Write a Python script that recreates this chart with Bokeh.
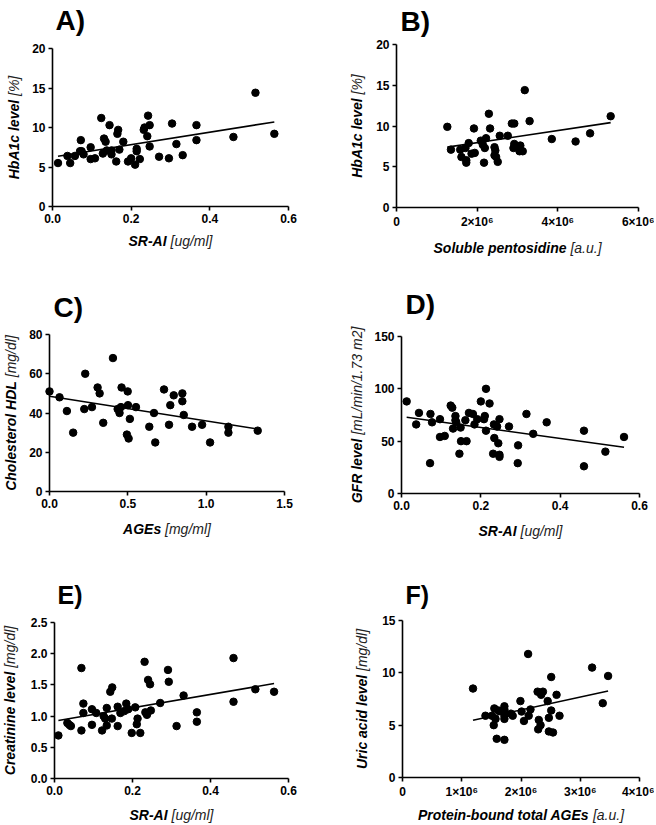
import math
from bokeh.plotting import figure
from bokeh.models import Label, Range1d, FixedTicker
from bokeh.layouts import column, row
from bokeh.embed import file_html
from bokeh.resources import INLINE

FONT = "Liberation Sans"

# ---------------- data ----------------
# A) HbA1c vs SR-AI
a_x = [0.014, 0.038, 0.045, 0.057, 0.070, 0.072, 0.074, 0.079, 0.097, 0.097, 0.108, 0.124,
       0.128, 0.131, 0.135, 0.138, 0.145, 0.150, 0.150, 0.162, 0.165, 0.167, 0.170, 0.180,
       0.192, 0.200, 0.210, 0.214, 0.214, 0.222, 0.232, 0.234, 0.241, 0.243, 0.247, 0.247,
       0.271, 0.296, 0.304, 0.315, 0.331, 0.366, 0.366, 0.460, 0.516, 0.564]
a_y = [5.5, 6.4, 5.5, 6.4, 7.0, 8.4, 7.0, 6.6, 7.5, 6.0, 6.1, 11.2,
       6.7, 8.6, 8.2, 7.1, 10.3, 6.6, 7.1, 5.7, 9.2, 9.7, 7.2, 8.2,
       5.7, 6.1, 5.3, 7.0, 7.3, 6.0, 9.7, 10.0, 8.9, 11.5, 10.3, 7.6,
       6.3, 6.1, 10.5, 7.9, 6.5, 10.3, 8.4, 8.8, 14.4, 9.2]
a_fit = [7.9, 6.25]            # slope, intercept
a_xticks = [0, 0.2, 0.4, 0.6]
a_xtick_labels = ["0.0", "0.2", "0.4", "0.6"]
a_yticks = [0, 5, 10, 15, 20]
a_ytick_labels = ["0", "5", "10", "15", "20"]

# B) HbA1c vs soluble pentosidine
b_x = [1.26e6, 1.35e6, 1.58e6, 1.61e6, 1.71e6, 1.73e6, 1.73e6, 1.79e6, 1.86e6, 1.92e6,
       1.94e6, 2.09e6, 2.14e6, 2.17e6, 2.19e6, 2.22e6, 2.29e6, 2.32e6, 2.43e6, 2.45e6,
       2.43e6, 2.47e6, 2.51e6, 2.56e6, 2.76e6, 2.86e6, 2.92e6, 2.90e6, 2.92e6, 3.07e6,
       3.05e6, 3.13e6, 3.18e6, 3.30e6, 3.85e6, 4.44e6, 4.80e6, 5.31e6]
b_y = [9.9, 7.1, 7.1, 6.2, 7.3, 5.8, 5.5, 7.9, 6.6, 9.7,
       6.7, 8.2, 7.7, 5.5, 7.3, 8.5, 11.5, 9.7, 7.4, 7.0,
       6.4, 6.2, 5.6, 8.8, 8.8, 10.3, 10.3, 7.3, 7.8, 7.6,
       6.9, 6.9, 14.4, 10.6, 8.4, 8.1, 9.1, 11.2]
b_fit = [0.74e-6, 6.48]
b_xticks = [0, 2e6, 4e6, 6e6]
b_xtick_labels = ["0", "2×10⁶", "4×10⁶", "6×10⁶"]
b_yticks = [0, 5, 10, 15, 20]
b_ytick_labels = ["0", "5", "10", "15", "20"]

# C) Cholesterol HDL vs AGEs
c_x = [0.0, 0.064, 0.111, 0.151, 0.222, 0.228, 0.271, 0.307, 0.320, 0.343, 0.405, 0.435,
       0.447, 0.456, 0.460, 0.499, 0.501, 0.494, 0.505, 0.513, 0.552, 0.637, 0.667, 0.675,
       0.731, 0.763, 0.771, 0.793, 0.848, 0.848, 0.857, 0.910, 0.974, 1.025, 1.142, 1.142, 1.329]
c_y = [51, 48, 41, 30, 42, 60, 43, 53, 50, 35, 68, 42,
       40, 43, 53, 51, 44, 29, 27, 37, 43, 33, 40, 25,
       52, 34, 44, 49, 50, 46, 39, 33, 34, 25, 33, 30, 31]
c_fit = [-12.56, 48.5]
c_xticks = [0, 0.5, 1.0, 1.5]
c_xtick_labels = ["0.0", "0.5", "1.0", "1.5"]
c_yticks = [0, 20, 40, 60, 80]
c_ytick_labels = ["0", "20", "40", "60", "80"]

# D) GFR vs SR-AI
d_x = [0.013, 0.037, 0.044, 0.072, 0.073, 0.077, 0.097, 0.097, 0.109, 0.124, 0.128, 0.130,
       0.136, 0.136, 0.138, 0.146, 0.149, 0.150, 0.161, 0.164, 0.170, 0.180, 0.184, 0.191,
       0.200, 0.208, 0.210, 0.213, 0.213, 0.222, 0.233, 0.234, 0.231, 0.241, 0.244, 0.247,
       0.247, 0.247, 0.271, 0.294, 0.293, 0.315, 0.332, 0.366, 0.460, 0.460, 0.514, 0.561]
d_y = [88, 66, 77, 29, 76, 68, 71, 54, 55, 84, 82, 62,
       74, 70, 68, 38, 63, 50, 70, 50, 77, 76, 66, 71,
       88, 71, 74, 100, 60, 86, 66, 53, 38, 64, 48, 71,
       37, 35, 64, 46, 29, 76, 57, 68, 60, 26, 40, 54]
d_fit = [-52.2, 73.5]
d_xticks = [0, 0.2, 0.4, 0.6]
d_xtick_labels = ["0.0", "0.2", "0.4", "0.6"]
d_yticks = [0, 50, 100, 150]
d_ytick_labels = ["0", "50", "100", "150"]

# E) Creatinine vs SR-AI
e_x = [0.010, 0.033, 0.038, 0.042, 0.069, 0.069, 0.074, 0.074, 0.096, 0.096, 0.107, 0.122,
       0.126, 0.130, 0.134, 0.134, 0.143, 0.148, 0.147, 0.162, 0.162, 0.169, 0.179, 0.184,
       0.189, 0.198, 0.207, 0.211, 0.213, 0.220, 0.231, 0.233, 0.237, 0.240, 0.245, 0.247,
       0.271, 0.291, 0.293, 0.313, 0.331, 0.365, 0.365, 0.459, 0.459, 0.515, 0.563]
e_y = [0.69, 0.89, 0.86, 0.84, 1.77, 0.77, 1.20, 1.05, 1.11, 0.86, 1.05, 0.77,
       1.00, 0.96, 1.13, 0.85, 1.39, 1.46, 0.96, 1.15, 0.84, 1.05, 1.08, 1.20,
       1.11, 0.73, 1.14, 0.87, 0.96, 0.73, 1.87, 1.06, 1.02, 1.58, 1.51, 1.09,
       1.21, 1.74, 1.55, 0.84, 1.33, 1.06, 0.91, 1.93, 1.23, 1.43, 1.39]
e_fit = [1.07, 0.92]
e_xticks = [0, 0.2, 0.4, 0.6]
e_xtick_labels = ["0.0", "0.2", "0.4", "0.6"]
e_yticks = [0, 0.5, 1.0, 1.5, 2.0, 2.5]
e_ytick_labels = ["0.0", "0.5", "1.0", "1.5", "2.0", "2.5"]

# F) Uric acid vs protein-bound total AGEs
f_x = [1.19e6, 1.40e6, 1.51e6, 1.54e6, 1.55e6, 1.57e6, 1.59e6, 1.62e6, 1.72e6, 1.72e6,
       1.72e6, 1.72e6, 1.72e6, 1.83e6, 1.86e6, 1.99e6, 2.01e6, 2.05e6, 2.12e6, 2.13e6,
       2.16e6, 2.28e6, 2.30e6, 2.29e6, 2.33e6, 2.34e6, 2.37e6, 2.45e6, 2.47e6, 2.47e6,
       2.51e6, 2.51e6, 2.54e6, 2.60e6, 2.65e6, 3.20e6, 3.38e6, 3.47e6]
f_y = [8.5, 5.9, 5.9, 5.0, 6.6, 5.6, 3.7, 6.4, 6.8, 5.9,
       5.6, 6.5, 3.6, 6.1, 5.9, 7.3, 6.3, 5.4, 11.8, 5.9,
       6.5, 8.2, 5.5, 4.6, 5.0, 7.9, 8.2, 7.3, 5.7, 4.4,
       9.6, 6.4, 4.3, 7.9, 5.9, 10.5, 7.1, 9.7]
f_fit = [1.224e-6, 4.01]
f_xticks = [0, 1e6, 2e6, 3e6, 4e6]
f_xtick_labels = ["0", "1×10⁶", "2×10⁶", "3×10⁶", "4×10⁶"]
f_yticks = [0, 5, 10, 15]
f_ytick_labels = ["0", "5", "10", "15"]

panel_titles = ["A)", "B)", "C)", "D)", "E)", "F)"]
x_titles = [("SR-AI", "[ug/ml]"), ("Soluble pentosidine", "[a.u.]"), ("AGEs", "[mg/ml]"),
            ("SR-AI", "[ug/ml]"), ("SR-AI", "[ug/ml]"), ("Protein-bound total AGEs", "[a.u.]")]
y_titles = [("HbA1c level", "[%]"), ("HbA1c level", "[%]"), ("Cholesterol HDL", "[mg/dl]"),
            ("GFR level", "[mL/min/1.73 m2]"), ("Creatinine level", "[mg/dl]"),
            ("Uric acid level", "[mg/dl]")]

# ---------------- text width estimates (Arial metrics, em) ----------------
W_BOLD = {" ": .278, "-": .333, "A": .722, "C": .722, "D": .722, "E": .667, "F": .611,
          "G": .778, "H": .722, "I": .278, "L": .611, "P": .667, "R": .722, "S": .667,
          "U": .722, "1": .556, "a": .556, "b": .611, "c": .556, "d": .611, "e": .556,
          "g": .611, "h": .611, "i": .278, "l": .278, "n": .611, "o": .611, "p": .611,
          "r": .389, "s": .556, "t": .333, "u": .611, "v": .556}
W_REG = {" ": .278, "[": .278, "]": .278, "/": .278, ".": .278, "%": .889, "1": .556,
         "2": .556, "3": .556, "7": .556, "L": .556, "a": .556, "d": .556, "g": .556,
         "i": .222, "l": .222, "m": .833, "n": .556, "u": .556}


def tw(s, table, size):
    return sum(table.get(ch, 0.58) for ch in s) * size


def make_panel(i, xs, ys, fit, xb, yb, xticks, xlabels, yticks, ylabels,
               w, h, frame_px, xlab_off, ylab_off, title_off, title_size):
    # frame_px: pixel box (left, right, top, bottom) of the axes inside the figure
    fl, fr, ft, fbt = frame_px
    sx = (fr - fl) / (xb[1] - xb[0])
    sy = (fbt - ft) / (yb[1] - yb[0])
    xr = (xb[0] - fl / sx, xb[1] + (w - fr) / sx)
    yr = (yb[0] - (h - fbt) / sy, yb[1] + ft / sy)
    p = figure(width=w, height=h, x_range=Range1d(*xr), y_range=Range1d(*yr),
               output_backend="svg", toolbar_location=None, min_border=0,
               min_border_left=0, min_border_right=0, min_border_top=0, min_border_bottom=0)
    p.xgrid.visible = False
    p.ygrid.visible = False
    p.outline_line_color = None
    p.background_fill_color = "white"
    p.border_fill_color = "white"

    p.xaxis[0].fixed_location = yb[0]
    p.yaxis[0].fixed_location = xb[0]
    p.xaxis[0].bounds = xb
    p.yaxis[0].bounds = yb
    for ax, ticks, labels in ((p.xaxis[0], xticks, xlabels), (p.yaxis[0], yticks, ylabels)):
        ax.ticker = FixedTicker(ticks=ticks)
        ax.major_label_overrides = {t: l for t, l in zip(ticks, labels)}
        ax.axis_line_width = 1.6
        ax.axis_line_color = "black"
        ax.major_tick_line_width = 1.6
        ax.major_tick_line_color = "black"
        ax.major_tick_out = 4
        ax.major_tick_in = 0
        ax.minor_tick_out = 0
        ax.minor_tick_in = 0
        ax.major_label_standoff = 3
        ax.major_label_text_font = FONT
        ax.major_label_text_font_style = "bold"
        ax.major_label_text_font_size = "12px"
        ax.major_label_text_color = "black"

    # data points
    p.scatter(xs, ys, size=7.5, marker="circle", fill_color="black", line_color="black")
    # regression line over the data span
    x0, x1 = min(xs), max(xs)
    slope, intercept = fit
    p.line([x0, x1], [slope * x0 + intercept, slope * x1 + intercept],
           line_color="black", line_width=1.6)

    size = 14
    # x-axis title: bold part + regular part
    bold, reg = x_titles[i]
    wb, ws, wr = tw(bold, W_BOLD, size), 0.278 * size, tw(reg, W_REG, size)
    start = -(wb + ws + wr) / 2
    xm = (xb[0] + xb[1]) / 2
    p.add_layout(Label(x=xm, y=yb[0], x_offset=start + wb, y_offset=-xlab_off, text=bold,
                       text_align="right", text_baseline="middle", text_font=FONT,
                       text_font_style="bold italic", text_font_size=f"{size}px",
                       text_color="black"))
    p.add_layout(Label(x=xm, y=yb[0], x_offset=start + wb + ws, y_offset=-xlab_off, text=reg,
                       text_align="left", text_baseline="middle", text_font=FONT,
                       text_font_style="italic", text_font_size=f"{size}px",
                       text_color="#222222"))
    # y-axis title (rotated)
    bold, reg = y_titles[i]
    wb, ws, wr = tw(bold, W_BOLD, size), 0.278 * size, tw(reg, W_REG, size)
    start = -(wb + ws + wr) / 2
    ym = (yb[0] + yb[1]) / 2
    p.add_layout(Label(x=xb[0], y=ym, x_offset=-ylab_off, y_offset=start + wb, text=bold,
                       angle=math.pi / 2, text_align="right", text_baseline="middle",
                       text_font=FONT, text_font_style="bold italic",
                       text_font_size=f"{size}px", text_color="black"))
    p.add_layout(Label(x=xb[0], y=ym, x_offset=-ylab_off, y_offset=start + wb + ws, text=reg,
                       angle=math.pi / 2, text_align="left", text_baseline="middle",
                       text_font=FONT, text_font_style="italic",
                       text_font_size=f"{size}px", text_color="#222222"))
    # panel letter
    p.add_layout(Label(x=xb[0], y=yb[1], x_offset=title_off[0], y_offset=title_off[1],
                       text=panel_titles[i], text_align="left", text_baseline="alphabetic",
                       text_font=FONT, text_font_style="bold",
                       text_font_size=f"{title_size}px", text_color="black"))
    return p


pA = make_panel(0, a_x, a_y, a_fit, (0, 0.6), (0, 20), a_xticks, a_xtick_labels,
                a_yticks, a_ytick_labels, 328, 275, (52, 288, 48, 206), 34, 39, (3, 28), 28)
pB = make_panel(1, b_x, b_y, b_fit, (0, 6e6), (0, 20), b_xticks, b_xtick_labels,
                b_yticks, b_ytick_labels, 326, 275, (68, 310, 44, 207), 40, 40, (4, 23), 28)
pC = make_panel(2, c_x, c_y, c_fit, (0, 1.5), (0, 80), c_xticks, c_xtick_labels,
                c_yticks, c_ytick_labels, 328, 270, (49, 284, 59, 216), 37, 39, (4, 27), 28)
pD = make_panel(3, d_x, d_y, d_fit, (0, 0.6), (0, 150), d_xticks, d_xtick_labels,
                d_yticks, d_ytick_labels, 326, 270, (73, 311, 61, 218), 37, 45, (4, 32), 28)
pE = make_panel(4, e_x, e_y, e_fit, (0, 0.6), (0, 2.5), e_xticks, e_xtick_labels,
                e_yticks, e_ytick_labels, 328, 278, (54, 288, 77, 233), 36, 45, (3, 28), 25)
pF = make_panel(5, f_x, f_y, f_fit, (0, 4e6), (0, 15), f_xticks, f_xtick_labels,
                f_yticks, f_ytick_labels, 326, 278, (74, 311, 75, 232), 37, 41, (3, 26), 25)

layout = column(row(pA, pB), row(pC, pD), row(pE, pF))
open("out.html", "w").write(file_html(layout, INLINE))
